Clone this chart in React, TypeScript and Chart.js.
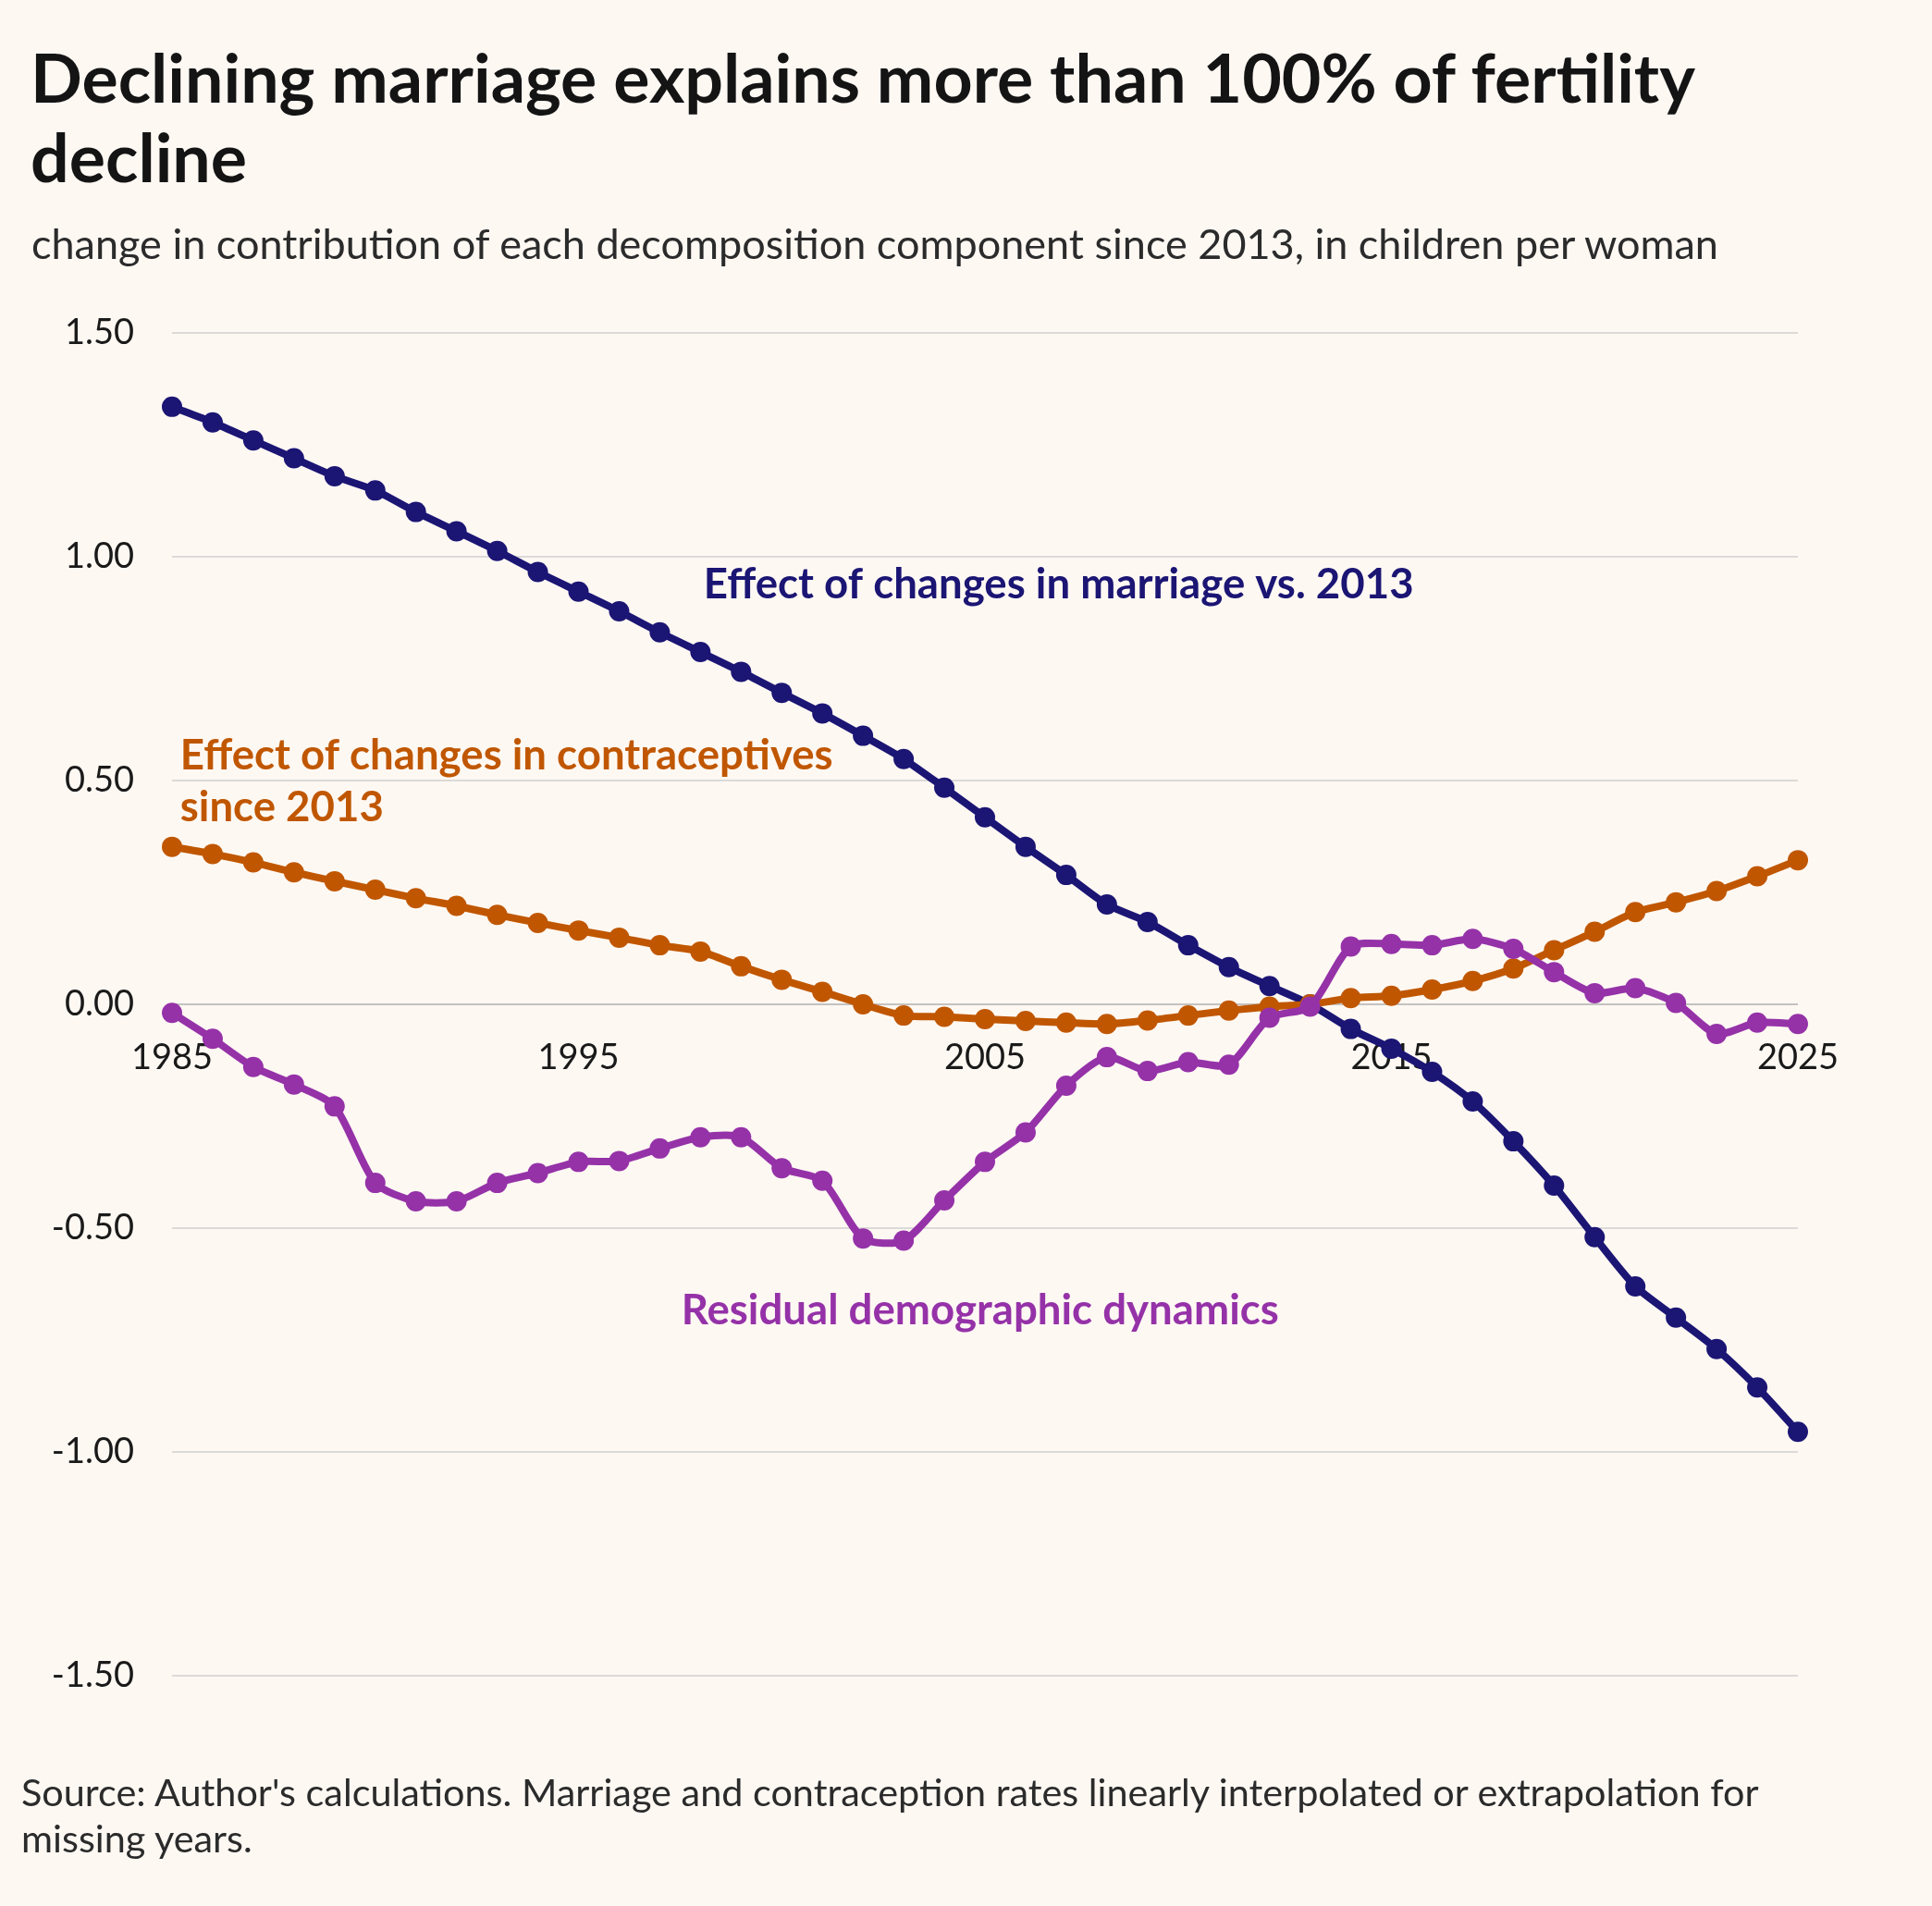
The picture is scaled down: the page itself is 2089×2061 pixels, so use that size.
import React, { useEffect, useRef } from "react";
import { Chart, registerables } from "chart.js";

Chart.register(...registerables);

const years = [
  1985, 1986, 1987, 1988, 1989, 1990, 1991, 1992, 1993, 1994, 1995, 1996, 1997, 1998,
  1999, 2000, 2001, 2002, 2003, 2004, 2005, 2006, 2007, 2008, 2009, 2010, 2011, 2012,
  2013, 2014, 2015, 2016, 2017, 2018, 2019, 2020, 2021, 2022, 2023, 2024, 2025,
];

const marriage = [
  1.335, 1.3, 1.26, 1.22, 1.18, 1.148, 1.1, 1.057, 1.013, 0.966, 0.922, 0.878, 0.831, 0.787,
  0.743, 0.696, 0.65, 0.6, 0.548, 0.484, 0.418, 0.352, 0.289, 0.223, 0.184, 0.132, 0.083, 0.041,
  0.0, -0.055, -0.099, -0.151, -0.217, -0.306, -0.405, -0.52, -0.63, -0.7, -0.77, -0.856, -0.955,
];

const contraceptives = [
  0.352, 0.336, 0.317, 0.295, 0.275, 0.256, 0.237, 0.22, 0.2, 0.182, 0.165, 0.149, 0.132, 0.118,
  0.085, 0.055, 0.028, 0.0, -0.025, -0.028, -0.033, -0.037, -0.041, -0.044, -0.036, -0.025, -0.014, -0.005,
  0.0, 0.014, 0.019, 0.033, 0.052, 0.08, 0.121, 0.162, 0.206, 0.228, 0.253, 0.286, 0.322,
];

const residual = [
  -0.019, -0.077, -0.14, -0.179, -0.228, -0.399, -0.44, -0.44, -0.399, -0.377, -0.352, -0.35, -0.322, -0.297,
  -0.297, -0.366, -0.394, -0.523, -0.528, -0.438, -0.352, -0.286, -0.182, -0.118, -0.149, -0.129, -0.135, -0.03,
  -0.005, 0.129, 0.135, 0.132, 0.146, 0.124, 0.072, 0.025, 0.036, 0.003, -0.066, -0.041, -0.044,
];

const xTicks = [1985, 1995, 2005, 2015, 2025];
const yTicks = [-1.5, -1.0, -0.5, 0, 0.5, 1.0, 1.5];

const NAVY = "#1b1574";
const ORANGE = "#c05700";
const PURPLE = "#9532a8";
const BG = "#fef8f3";

type Label = { lines: string[]; x: number; y: number[]; color: string };
const labels: Label[] = [
  { lines: ["Effect of changes in marriage vs. 2013"], x: 1998.08, y: [0.907], color: NAVY },
  { lines: ["Effect of changes in contraceptives", "since 2013"], x: 1985.2, y: [0.525, 0.409], color: ORANGE },
  { lines: ["Residual demographic dynamics"], x: 1997.53, y: [-0.715], color: PURPLE },
];

const labelPlugin = {
  id: "seriesLabels",
  afterDatasetsDraw(chart: any) {
    const ctx = chart.ctx;
    const xs = chart.scales.x;
    const ys = chart.scales.y;
    ctx.save();
    ctx.font = "bold 45.6px Lato";
    ctx.textAlign = "left";
    ctx.textBaseline = "alphabetic";
    for (const l of labels) {
      ctx.fillStyle = l.color;
      l.lines.forEach((t, i) => {
        ctx.fillText(t, xs.getPixelForValue(l.x), ys.getPixelForValue(l.y[i]));
      });
    }
    ctx.restore();
  },
};

function mk(label: string, data: number[], color: string) {
  return {
    label,
    data: years.map((y, i) => ({ x: y, y: data[i] })),
    borderColor: color,
    backgroundColor: color,
    borderWidth: 8,
    pointRadius: 11,
    pointBorderWidth: 0,
    pointBackgroundColor: color,
    tension: 0.25,
    clip: false as const,
  };
}

export default function App() {
  const ref = useRef<HTMLCanvasElement | null>(null);

  useEffect(() => {
    document.body.style.margin = "0";
    document.body.style.background = BG;
    const canvas = ref.current!;
    const chart = new Chart(canvas, {
      type: "line",
      data: {
        datasets: [
          mk("Residual demographic dynamics", residual, PURPLE),
          mk("Effect of changes in contraceptives since 2013", contraceptives, ORANGE),
          mk("Effect of changes in marriage vs. 2013", marriage, NAVY),
        ],
      },
      options: {
        animation: false,
        responsive: false,
        devicePixelRatio: 1,
        layout: { padding: { left: 0, top: 360, right: 145, bottom: 249 } },
        plugins: {
          legend: { display: false },
          tooltip: { enabled: false },
          title: { display: false },
        },
        scales: {
          x: {
            type: "linear",
            min: 1985,
            max: 2025,
            position: { y: 0 } as any,
            grid: { display: false },
            border: { display: false },
            afterFit: (s: any) => {
              s.height = 0;
            },
            afterBuildTicks: (s: any) => {
              s.ticks = xTicks.map((v) => ({ value: v }));
            },
            ticks: {
              autoSkip: false,
              maxRotation: 0,
              padding: 27,
              color: "#1a1a1a",
              font: { family: "Lato", size: 38 },
              callback: (v: any) => String(v),
            },
          },
          y: {
            type: "linear",
            min: -1.5,
            max: 1.5,
            afterFit: (s: any) => {
              s.width = 186;
            },
            afterBuildTicks: (s: any) => {
              s.ticks = yTicks.map((v) => ({ value: v }));
            },
            grid: {
              drawTicks: false,
              lineWidth: 2,
              color: (c: any) => (c.tick && c.tick.value === 0 ? "#c4c2c0" : "#dcdad8"),
            },
            border: { display: false },
            ticks: {
              padding: 41,
              color: "#1a1a1a",
              font: { family: "Lato", size: 38 },
              callback: (v: any) => Number(v).toFixed(2),
            },
          },
        },
      },
      plugins: [labelPlugin],
    });
    return () => chart.destroy();
  }, []);

  return (
    <div
      style={{
        position: "absolute",
        left: 0,
        top: 0,
        width: 2089,
        height: 2061,
        background: BG,
        fontFamily: "Lato, sans-serif",
        overflow: "hidden",
      }}
    >
      <canvas ref={ref} width={2089} height={2061} style={{ position: "absolute", left: 0, top: 0, width: 2089, height: 2061 }} />
      <div
        style={{
          position: "absolute",
          left: 33,
          top: 40,
          fontSize: 73.5,
          lineHeight: "86px",
          fontWeight: 700,
          color: "#141414",
          whiteSpace: "nowrap",
        }}
      >
        Declining marriage explains more than 100% of fertility
        <br />
        decline
      </div>
      <div
        style={{
          position: "absolute",
          left: 34,
          top: 236,
          fontSize: 45,
          lineHeight: "54px",
          color: "#2b2b2b",
          whiteSpace: "nowrap",
        }}
      >
        change in contribution of each decomposition component since 2013, in children per woman
      </div>
      <div
        style={{
          position: "absolute",
          left: 23,
          top: 1912,
          fontSize: 41.4,
          lineHeight: "50px",
          color: "#2b2b2b",
          whiteSpace: "nowrap",
        }}
      >
        Source: Author's calculations. Marriage and contraception rates linearly interpolated or extrapolation for
        <br />
        missing years.
      </div>
    </div>
  );
}
